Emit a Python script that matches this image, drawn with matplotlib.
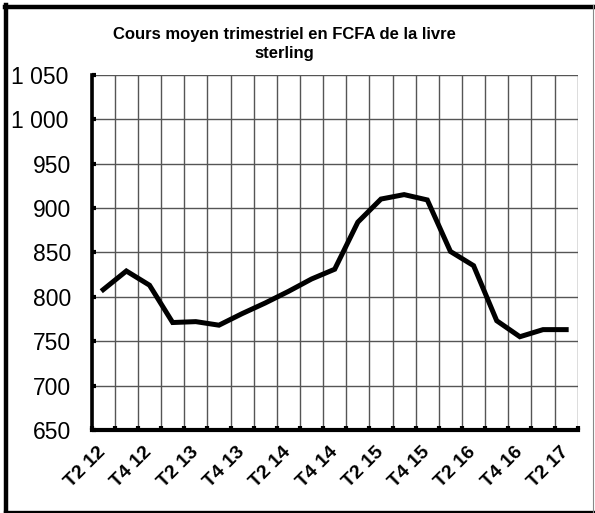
import matplotlib
matplotlib.use("Agg")
import matplotlib.pyplot as plt
from matplotlib.lines import Line2D
from matplotlib.transforms import ScaledTranslation
import numpy as np

plt.rcParams['font.family'] = ['Liberation Sans', 'DejaVu Sans']

# trimestres de T2 2012 a T2 2017
quarters = ['T2 12', 'T3 12', 'T4 12', 'T1 13', 'T2 13', 'T3 13', 'T4 13',
            'T1 14', 'T2 14', 'T3 14', 'T4 14', 'T1 15', 'T2 15', 'T3 15',
            'T4 15', 'T1 16', 'T2 16', 'T3 16', 'T4 16', 'T1 17', 'T2 17']
cours = [808, 829, 813, 771, 772, 768, 781, 793, 806, 820, 831,
         884, 910, 915, 909, 851, 835, 773, 755, 763, 763]
yticks = [650, 700, 750, 800, 850, 900, 950, 1000, 1050]
ylabels = ['650', '700', '750', '800', '850', '900', '950', '1 000', '1 050']

fig = plt.figure(figsize=(5.95, 5.13), dpi=100)
ax = fig.add_axes([0.154, 0.1618, 0.817, 0.6926])

x = np.arange(len(quarters))
ax.plot(x, cours, color='black', lw=3.6, solid_joinstyle='miter', zorder=3)

ax.set_xlim(-0.5, len(quarters) - 0.5)
ax.set_ylim(650, 1050)

# grille aux limites des categories (comme Excel)
ax.set_xticks(np.arange(-0.5, len(quarters)), minor=True)
ax.set_xticks(x[::2])
ax.set_xticklabels(quarters[::2], rotation=45, ha='right', va='center',
                   rotation_mode='anchor', fontsize=14, fontweight='bold')
ax.set_yticks(yticks)
ax.set_yticklabels(ylabels, fontsize=16.5)

ax.grid(True, which='minor', axis='x', color='#555555', lw=1.0)
ax.grid(True, which='major', axis='y', color='#555555', lw=1.0)
ax.tick_params(axis='x', which='major', length=0, pad=14)
ax.tick_params(axis='x', which='minor', direction='in', length=3, width=3)
ax.tick_params(axis='y', direction='in', length=3, width=3, pad=15)

for s in ['top', 'right']:
    ax.spines[s].set_visible(False)
ax.spines['left'].set_linewidth(2.6)
ax.spines['bottom'].set_linewidth(3.0)
ax.set_axisbelow(True)

# les libelles "1 000" et "1 050" sont repousses contre le bord
for lab in ax.get_yticklabels():
    if lab.get_text().startswith('1 '):
        lab.set_transform(lab.get_transform() +
                          ScaledTranslation(-2 / 100, 0, fig.dpi_scale_trans))

fig.text(0.478, 0.915, 'Cours moyen trimestriel en FCFA de la livre\nsterling',
         ha='center', va='center', fontsize=12, fontweight='bold',
         linespacing=1.35)

# cadre du graphique
W, H = 595, 513
def fl(xs, ys, lw, c):
    fig.add_artist(Line2D([v / W for v in xs], [1 - v / H for v in ys],
                          lw=lw, color=c, transform=fig.transFigure))
fl([6, 6], [5, 513], 3.2, 'black')
fl([5, 593], [7, 7], 3.2, 'black')
fl([5, 593], [511.5, 511.5], 2.4, 'black')
fl([593, 593], [5, 513], 0.8, '#888888')

fig.savefig('out.png', dpi=100)
